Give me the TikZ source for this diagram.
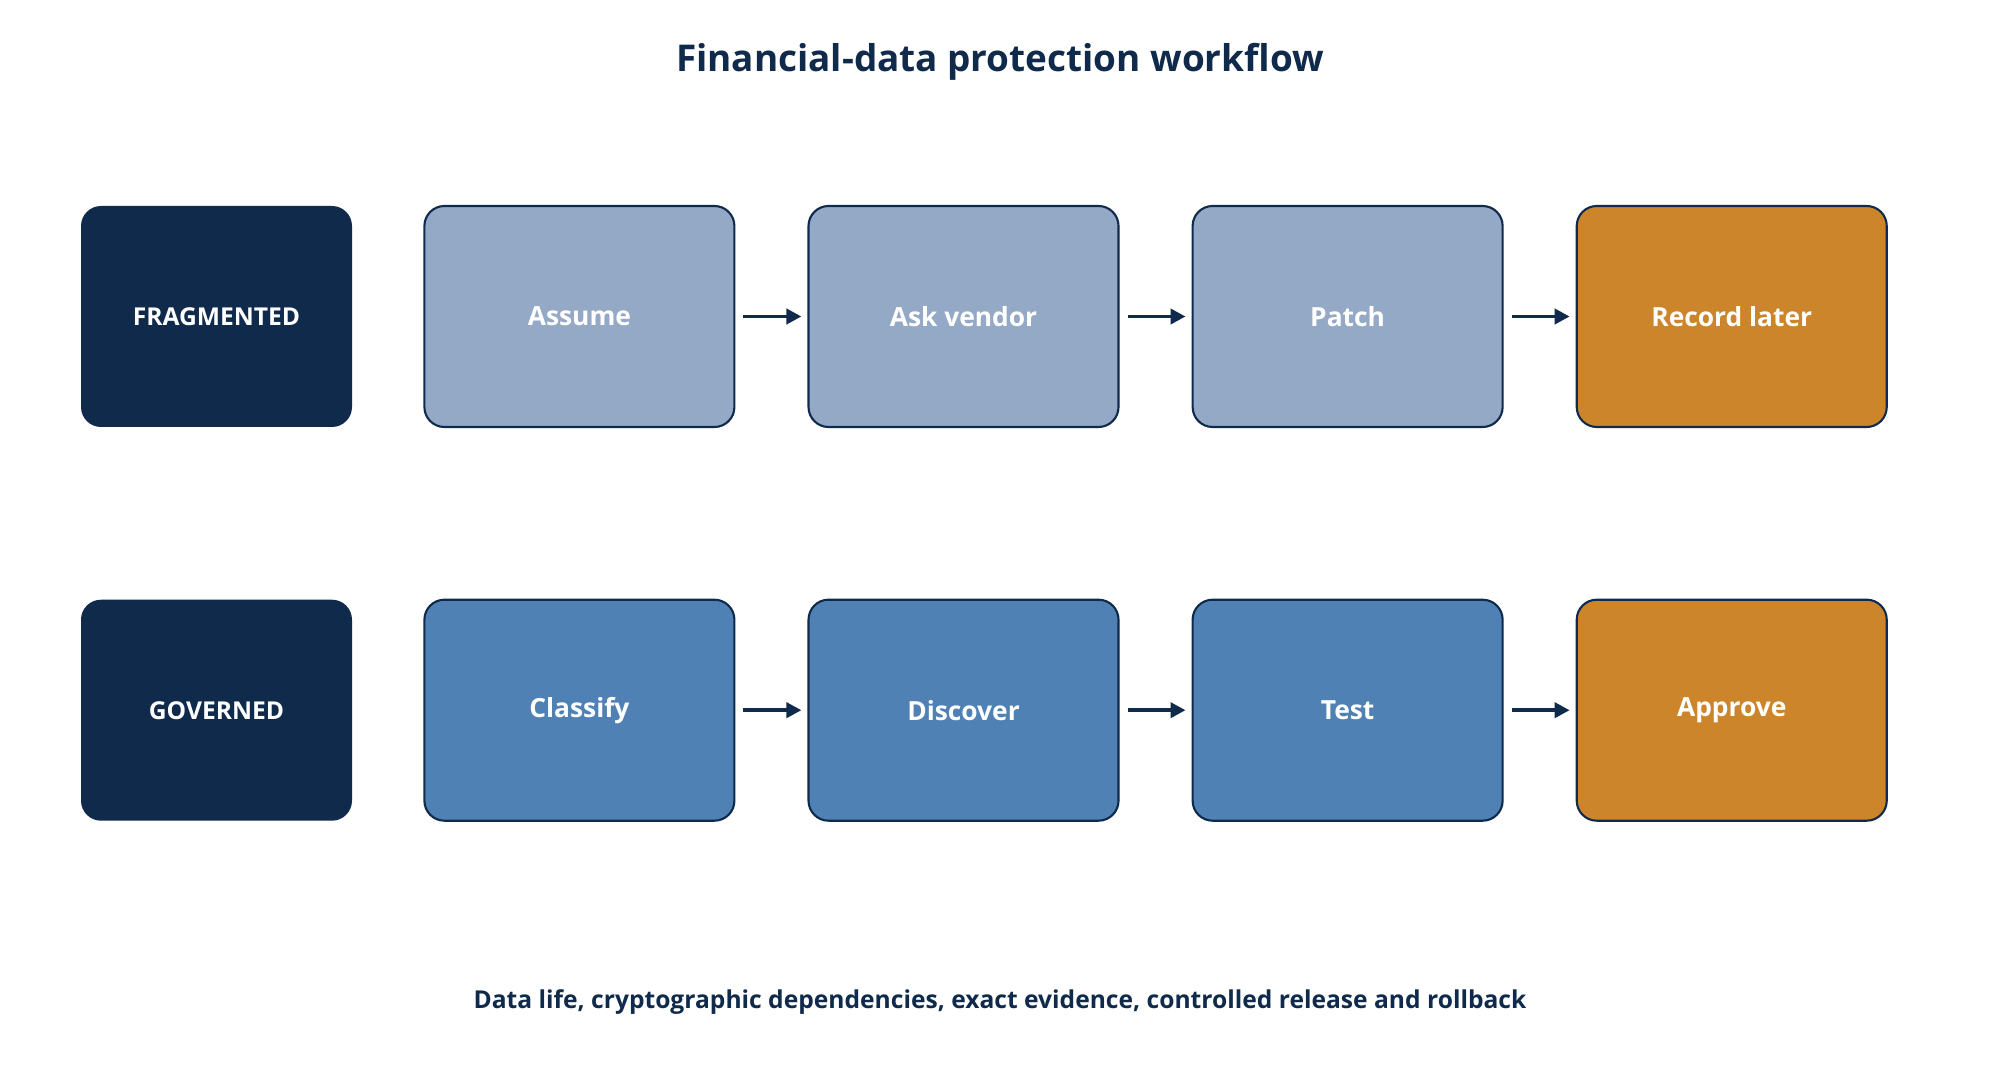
\documentclass[tikz,border=0pt]{standalone}
\usepackage{fontspec}
\setmainfont{Open Sans}
\usetikzlibrary{arrows.meta,positioning}
\definecolor{navy}{HTML}{0F2A4A}
\definecolor{paleblue}{HTML}{94A9C6}
\definecolor{midblue}{HTML}{4F81B5}
\definecolor{amber}{HTML}{CC852A}
\tikzset{
  lane/.style={rectangle,rounded corners=0.4cm,fill=navy,minimum width=5.42cm,minimum height=4.42cm,text=white,font=\bfseries\fontsize{14}{16}\selectfont},
  stage/.style={rectangle,rounded corners=0.4cm,draw=navy,line width=1.2pt,minimum width=6.2cm,minimum height=4.42cm,text=white,font=\bfseries\fontsize{15}{18}\selectfont},
  flow/.style={-{Triangle[length=3mm,width=3mm]},line width=2.2pt,navy,shorten <=0.16cm,shorten >=0.12cm}
}
\begin{document}
\begin{tikzpicture}
	\useasboundingbox (0,0) rectangle (40,-21.6);
	\node[font=\bfseries\fontsize{21}{26}\selectfont,text=navy] (title) at (20,-1.24) {Financial-data protection workflow};

	\node[lane] (frag) at (4.33,-6.33) {FRAGMENTED};
	\node[stage,fill=paleblue,right =1.42cm of frag] (assume) {Assume};
	\node[stage,fill=paleblue,right =1.44cm of assume] (ask) {Ask vendor};
	\node[stage,fill=paleblue,right =1.44cm of ask] (patch) {Patch};
	\node[stage,fill=amber,right =1.44cm of patch] (record) {Record later};

	\node[lane,below =3.44cm of frag] (gov) {GOVERNED};
	\node[stage,fill=midblue,right =1.42cm of gov] (classify) {Classify};
	\node[stage,fill=midblue,right =1.44cm of classify] (discover) {Discover};
	\node[stage,fill=midblue,right =1.44cm of discover] (test) {Test};
	\node[stage,fill=amber,right =1.44cm of test] (approve) {Approve};

	\draw[flow] (assume) -- (ask);
	\draw[flow] (ask) -- (patch);
	\draw[flow] (patch) -- (record);
	\draw[flow] (classify) -- (discover);
	\draw[flow] (discover) -- (test);
	\draw[flow] (test) -- (approve);

	\node[font=\bfseries\fontsize{14}{17}\selectfont,text=navy] (foot) at (20,-20.04) {Data life, cryptographic dependencies, exact evidence, controlled release and rollback};
\end{tikzpicture}
\end{document}
